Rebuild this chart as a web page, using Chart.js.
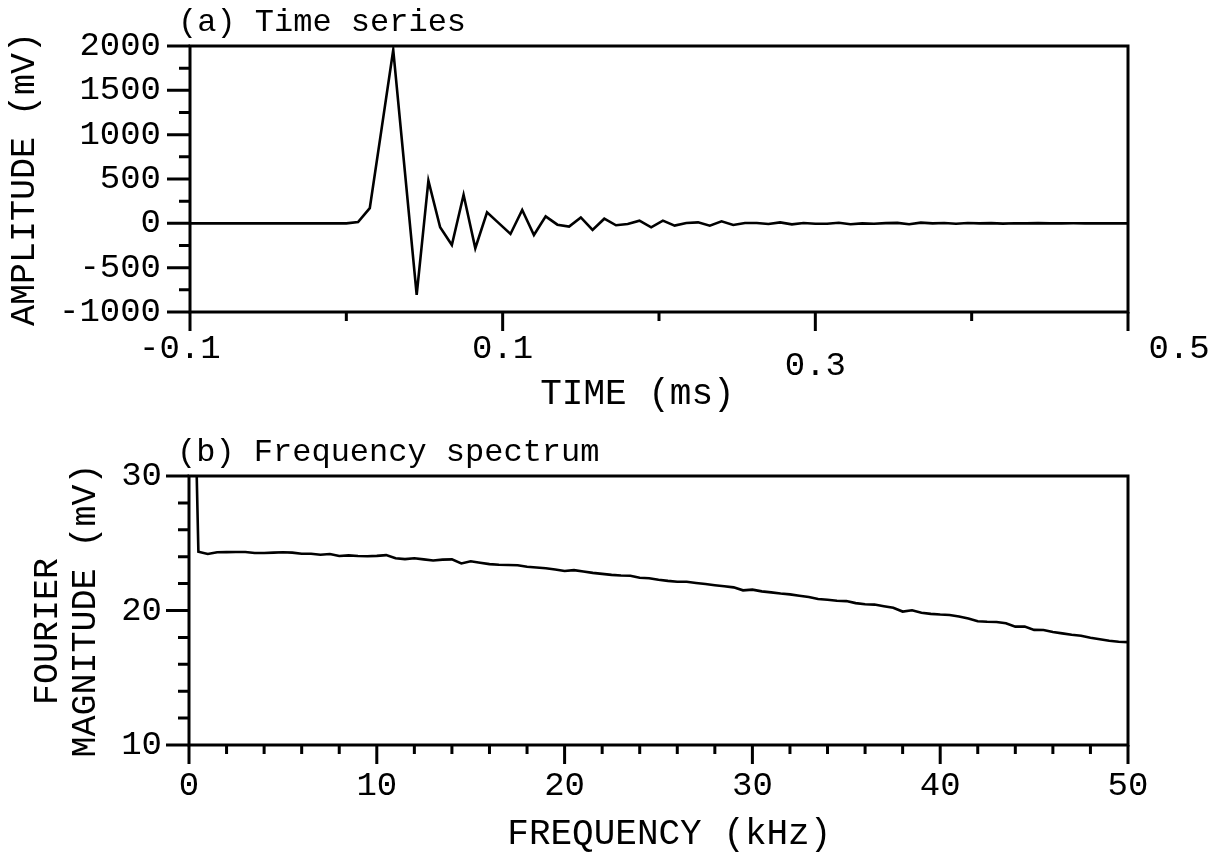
<!DOCTYPE html>
<html>
<head>
<meta charset="utf-8">
<title>Time series and frequency spectrum</title>
<script src="https://cdn.jsdelivr.net/npm/chart.js@4.4.0/dist/chart.umd.min.js"></script>
<style>
  html, body { margin: 0; padding: 0; background: #fff; }
  #page { position: relative; width: 1216px; height: 855px; }
  .panel { position: absolute; left: 0; width: 1216px; }
  #panelA { top: 0; height: 430px; }
  #panelB { top: 430px; height: 425px; }
</style>
</head>
<body>
<div id="page">
  <div class="panel" id="panelA"><canvas id="timeChart"></canvas></div>
  <div class="panel" id="panelB"><canvas id="spectrumChart"></canvas></div>
</div>
<script>
const FONT = '"Liberation Mono", "DejaVu Sans Mono", monospace';

// (a) Time series - one sample every 7.5 us
const timeMs = [
  -0.105, -0.0975, -0.09, -0.0825, -0.075, -0.0675, -0.06, -0.0525, -0.045, -0.0375,
  -0.03, -0.0225, -0.015, -0.0075, 0, 0.0075, 0.015, 0.0225, 0.03, 0.0375,
  0.045, 0.0525, 0.06, 0.0675, 0.075, 0.0825, 0.09, 0.0975, 0.105, 0.1125,
  0.12, 0.1275, 0.135, 0.1425, 0.15, 0.1575, 0.165, 0.1725, 0.18, 0.1875,
  0.195, 0.2025, 0.21, 0.2175, 0.225, 0.2325, 0.24, 0.2475, 0.255, 0.2625,
  0.27, 0.2775, 0.285, 0.2925, 0.3, 0.3075, 0.315, 0.3225, 0.33, 0.3375,
  0.345, 0.3525, 0.36, 0.3675, 0.375, 0.3825, 0.39, 0.3975, 0.405, 0.4125,
  0.42, 0.4275, 0.435, 0.4425, 0.45, 0.4575, 0.465, 0.4725, 0.48, 0.4875,
  0.495, 0.5025
];
const amplitudeMv = [
  0, 0, 0, 0, 0, 0, 0, 0, 0, 0,
  0, 0, 0, 0, 0, 15, 172, 1060, 1955, 575,
  -806, 481, -45, -244, 322, -281, 124, 2, -120, 150,
  -131, 79, -15, -37, 67, -75, 52, -22, -8, 30,
  -45, 30, -26, 4, 11, -26, 22, -19, 4, 4,
  -8, 11, -12, 4, -4, -4, 6, -11, 0, -4,
  2, 5, -10, 8, 0, 3, -4, 3, 0, 2,
  -3, 1, 0, 2, -1, 0, 1, 0, -1, 0,
  0, 0
];
const timeMajorTicks = [-0.1, 0.1, 0.3, 0.5];
const timeTickLabels = ['-0.1', '0.1', '0.3', '0.5'];
const amplitudeMajorTicks = [-1000, -500, 0, 500, 1000, 1500, 2000];
const amplitudeTickLabels = ['-1000', '-500', '0', '500', '1000', '1500', '2000'];

// (b) Frequency spectrum - 0.5 kHz bins
const frequencyKhz = [
  0, 0.5, 1, 1.5, 2, 2.5, 3, 3.5, 4, 4.5,
  5, 5.5, 6, 6.5, 7, 7.5, 8, 8.5, 9, 9.5,
  10, 10.5, 11, 11.5, 12, 12.5, 13, 13.5, 14, 14.5,
  15, 15.5, 16, 16.5, 17, 17.5, 18, 18.5, 19, 19.5,
  20, 20.5, 21, 21.5, 22, 22.5, 23, 23.5, 24, 24.5,
  25, 25.5, 26, 26.5, 27, 27.5, 28, 28.5, 29, 29.5,
  30, 30.5, 31, 31.5, 32, 32.5, 33, 33.5, 34, 34.5,
  35, 35.5, 36, 36.5, 37, 37.5, 38, 38.5, 39, 39.5,
  40, 40.5, 41, 41.5, 42, 42.5, 43, 43.5, 44, 44.5,
  45, 45.5, 46, 46.5, 47, 47.5, 48, 48.5, 49, 49.5,
  50
];
const magnitudeMv = [
  56, 24.37, 24.2, 24.33, 24.34, 24.35, 24.35, 24.28, 24.28, 24.3,
  24.33, 24.3, 24.22, 24.22, 24.15, 24.2, 24.05, 24.1, 24.05, 24.03,
  24.06, 24.12, 23.88, 23.82, 23.88, 23.8, 23.72, 23.78, 23.8, 23.5,
  23.66, 23.55, 23.45, 23.4, 23.38, 23.37, 23.25, 23.2, 23.14, 23.05,
  22.94, 23.0, 22.9, 22.8, 22.72, 22.65, 22.6, 22.58, 22.44, 22.4,
  22.28, 22.2, 22.14, 22.14, 22.05, 21.97, 21.88, 21.8, 21.72, 21.5,
  21.55, 21.42, 21.35, 21.26, 21.2, 21.1, 21.0, 20.86, 20.8, 20.73,
  20.7, 20.55, 20.47, 20.44, 20.32, 20.2, 19.92, 20.02, 19.83, 19.75,
  19.7, 19.67, 19.55, 19.4, 19.2, 19.16, 19.14, 19.05, 18.8, 18.8,
  18.56, 18.55, 18.4, 18.3, 18.2, 18.12, 17.98, 17.86, 17.75, 17.68,
  17.65
];
const frequencyMajorTicks = [0, 10, 20, 30, 40, 50];
const frequencyTickLabels = ['0', '10', '20', '30', '40', '50'];
const magnitudeMajorTicks = [10, 20, 30];
const magnitudeTickLabels = ['10', '20', '30'];

function majorIndex(value, majors) {
    return majors.findIndex(m => Math.abs(m - value) < 1e-6);
}

// Marco del gráfico, marcas de escala largas/cortas y rótulo del panel
const frameAndTicks = {
    id: 'frameAndTicks',
    afterDraw(chart, args, opts) {
        const { ctx, chartArea: a } = chart;
        const xs = chart.scales.x;
        const ys = chart.scales.y;
        ctx.save();
        ctx.strokeStyle = '#000';
        ctx.lineWidth = 3;
        ctx.lineCap = 'butt';
        ctx.strokeRect(a.left, a.top, a.right - a.left, a.bottom - a.top);

        ctx.beginPath();
        xs.ticks.forEach(t => {
            const px = xs.getPixelForValue(t.value);
            const len = majorIndex(t.value, opts.xMajor) >= 0 ? 19 : 9;
            ctx.moveTo(px, a.bottom);
            ctx.lineTo(px, a.bottom + len);
        });
        ys.ticks.forEach(t => {
            const py = ys.getPixelForValue(t.value);
            const len = majorIndex(t.value, opts.yMajor) >= 0 ? 23 : 11;
            ctx.moveTo(a.left - len, py);
            ctx.lineTo(a.left, py);
        });
        ctx.stroke();

        ctx.fillStyle = '#000';
        ctx.font = '32px ' + FONT;
        ctx.textAlign = 'left';
        ctx.textBaseline = 'middle';
        ctx.fillText(opts.caption, a.left - 12, a.top - 23);
        ctx.restore();
    }
};

function tickFont(size) {
    return { family: FONT, size: size, lineHeight: 1 };
}

// Fijar el tamaño del eje para que el área del gráfico quede donde en el original
function fixXAxis(height) {
    return (scale) => {
        scale.height = height;
        scale.paddingLeft = 0;
        scale.paddingRight = 0;
    };
}

function initTimeChart() {
    const ctx = document.getElementById('timeChart').getContext('2d');
    return new Chart(ctx, {
        type: 'line',
        data: {
            datasets: [{
                data: timeMs.map((t, i) => ({ x: t, y: amplitudeMv[i] })),
                borderColor: '#000',
                borderWidth: 2.6,
                pointRadius: 0,
                tension: 0,
                fill: false
            }]
        },
        options: {
            responsive: true,
            maintainAspectRatio: false,
            animation: false,
            events: [],
            layout: { padding: { top: 44, right: 88, left: 0, bottom: 0 } },
            plugins: {
                legend: { display: false },
                tooltip: { enabled: false },
                frameAndTicks: {
                    caption: '(a) Time series',
                    xMajor: timeMajorTicks,
                    yMajor: amplitudeMajorTicks
                }
            },
            scales: {
                x: {
                    type: 'linear',
                    min: -0.1,
                    max: 0.5,
                    border: { display: false },
                    grid: { display: false, drawTicks: false },
                    ticks: {
                        stepSize: 0.1,
                        autoSkip: false,
                        maxRotation: 0,
                        padding: 20,
                        color: '#000',
                        // el 0.3 va un poco más abajo que los demás en el original
                        font: (c) => ({
                            family: FONT,
                            size: 34,
                            lineHeight: c.tick && majorIndex(c.tick.value, timeMajorTicks) === 2 ? 2.0 : 1
                        }),
                        callback: (value) => {
                            const i = majorIndex(value, timeMajorTicks);
                            if (i < 0) return '';
                            if (i === 0) return timeTickLabels[i] + ' ';
                            if (i === timeMajorTicks.length - 1) return '     ' + timeTickLabels[i];
                            return timeTickLabels[i];
                        }
                    },
                    title: {
                        display: true,
                        text: 'TIME (ms)  ',
                        color: '#000',
                        font: tickFont(36),
                        padding: { top: 0, bottom: 18 }
                    },
                    afterFit: fixXAxis(118)
                },
                y: {
                    min: -1000,
                    max: 2000,
                    border: { display: false },
                    grid: { display: false, drawTicks: false },
                    ticks: {
                        stepSize: 250,
                        autoSkip: false,
                        padding: 29,
                        color: '#000',
                        font: tickFont(34),
                        callback: (value) => {
                            const i = majorIndex(value, amplitudeMajorTicks);
                            return i < 0 ? '' : amplitudeTickLabels[i];
                        }
                    },
                    title: {
                        display: true,
                        text: 'AMPLITUDE (mV)',
                        color: '#000',
                        font: { family: FONT, size: 35, lineHeight: 1.2 },
                        padding: { top: 4, bottom: 0 }
                    },
                    afterFit: (scale) => { scale.width = 190; }
                }
            }
        },
        plugins: [frameAndTicks]
    });
}

function initSpectrumChart() {
    const ctx = document.getElementById('spectrumChart').getContext('2d');
    return new Chart(ctx, {
        type: 'line',
        data: {
            datasets: [{
                data: frequencyKhz.map((f, i) => ({ x: f, y: magnitudeMv[i] })),
                borderColor: '#000',
                borderWidth: 2.6,
                pointRadius: 0,
                tension: 0,
                fill: false
            }]
        },
        options: {
            responsive: true,
            maintainAspectRatio: false,
            animation: false,
            events: [],
            layout: { padding: { top: 46, right: 88, left: 0, bottom: 0 } },
            plugins: {
                legend: { display: false },
                tooltip: { enabled: false },
                frameAndTicks: {
                    caption: '(b) Frequency spectrum',
                    xMajor: frequencyMajorTicks,
                    yMajor: magnitudeMajorTicks
                }
            },
            scales: {
                x: {
                    type: 'linear',
                    min: 0,
                    max: 50,
                    border: { display: false },
                    grid: { display: false, drawTicks: false },
                    ticks: {
                        stepSize: 2,
                        autoSkip: false,
                        maxRotation: 0,
                        padding: 24,
                        color: '#000',
                        font: tickFont(34),
                        callback: (value) => {
                            const i = majorIndex(value, frequencyMajorTicks);
                            return i < 0 ? '' : frequencyTickLabels[i];
                        }
                    },
                    title: {
                        display: true,
                        text: ' FREQUENCY (kHz)',
                        color: '#000',
                        font: tickFont(36),
                        padding: { top: 0, bottom: 3 }
                    },
                    afterFit: fixXAxis(110)
                },
                y: {
                    min: 10,
                    max: 30,
                    border: { display: false },
                    grid: { display: false, drawTicks: false },
                    ticks: {
                        stepSize: 2,
                        autoSkip: false,
                        padding: 27,
                        color: '#000',
                        font: tickFont(34),
                        callback: (value) => {
                            const i = majorIndex(value, magnitudeMajorTicks);
                            return i < 0 ? '' : magnitudeTickLabels[i];
                        }
                    },
                    title: {
                        display: true,
                        text: ['FOURIER  ', 'MAGNITUDE (mV)'],
                        color: '#000',
                        font: { family: FONT, size: 35, lineHeight: 38 / 35 },
                        padding: { top: 29, bottom: 0 }
                    },
                    afterFit: (scale) => { scale.width = 189; }
                }
            }
        },
        plugins: [frameAndTicks]
    });
}

initTimeChart();
initSpectrumChart();
</script>
</body>
</html>
